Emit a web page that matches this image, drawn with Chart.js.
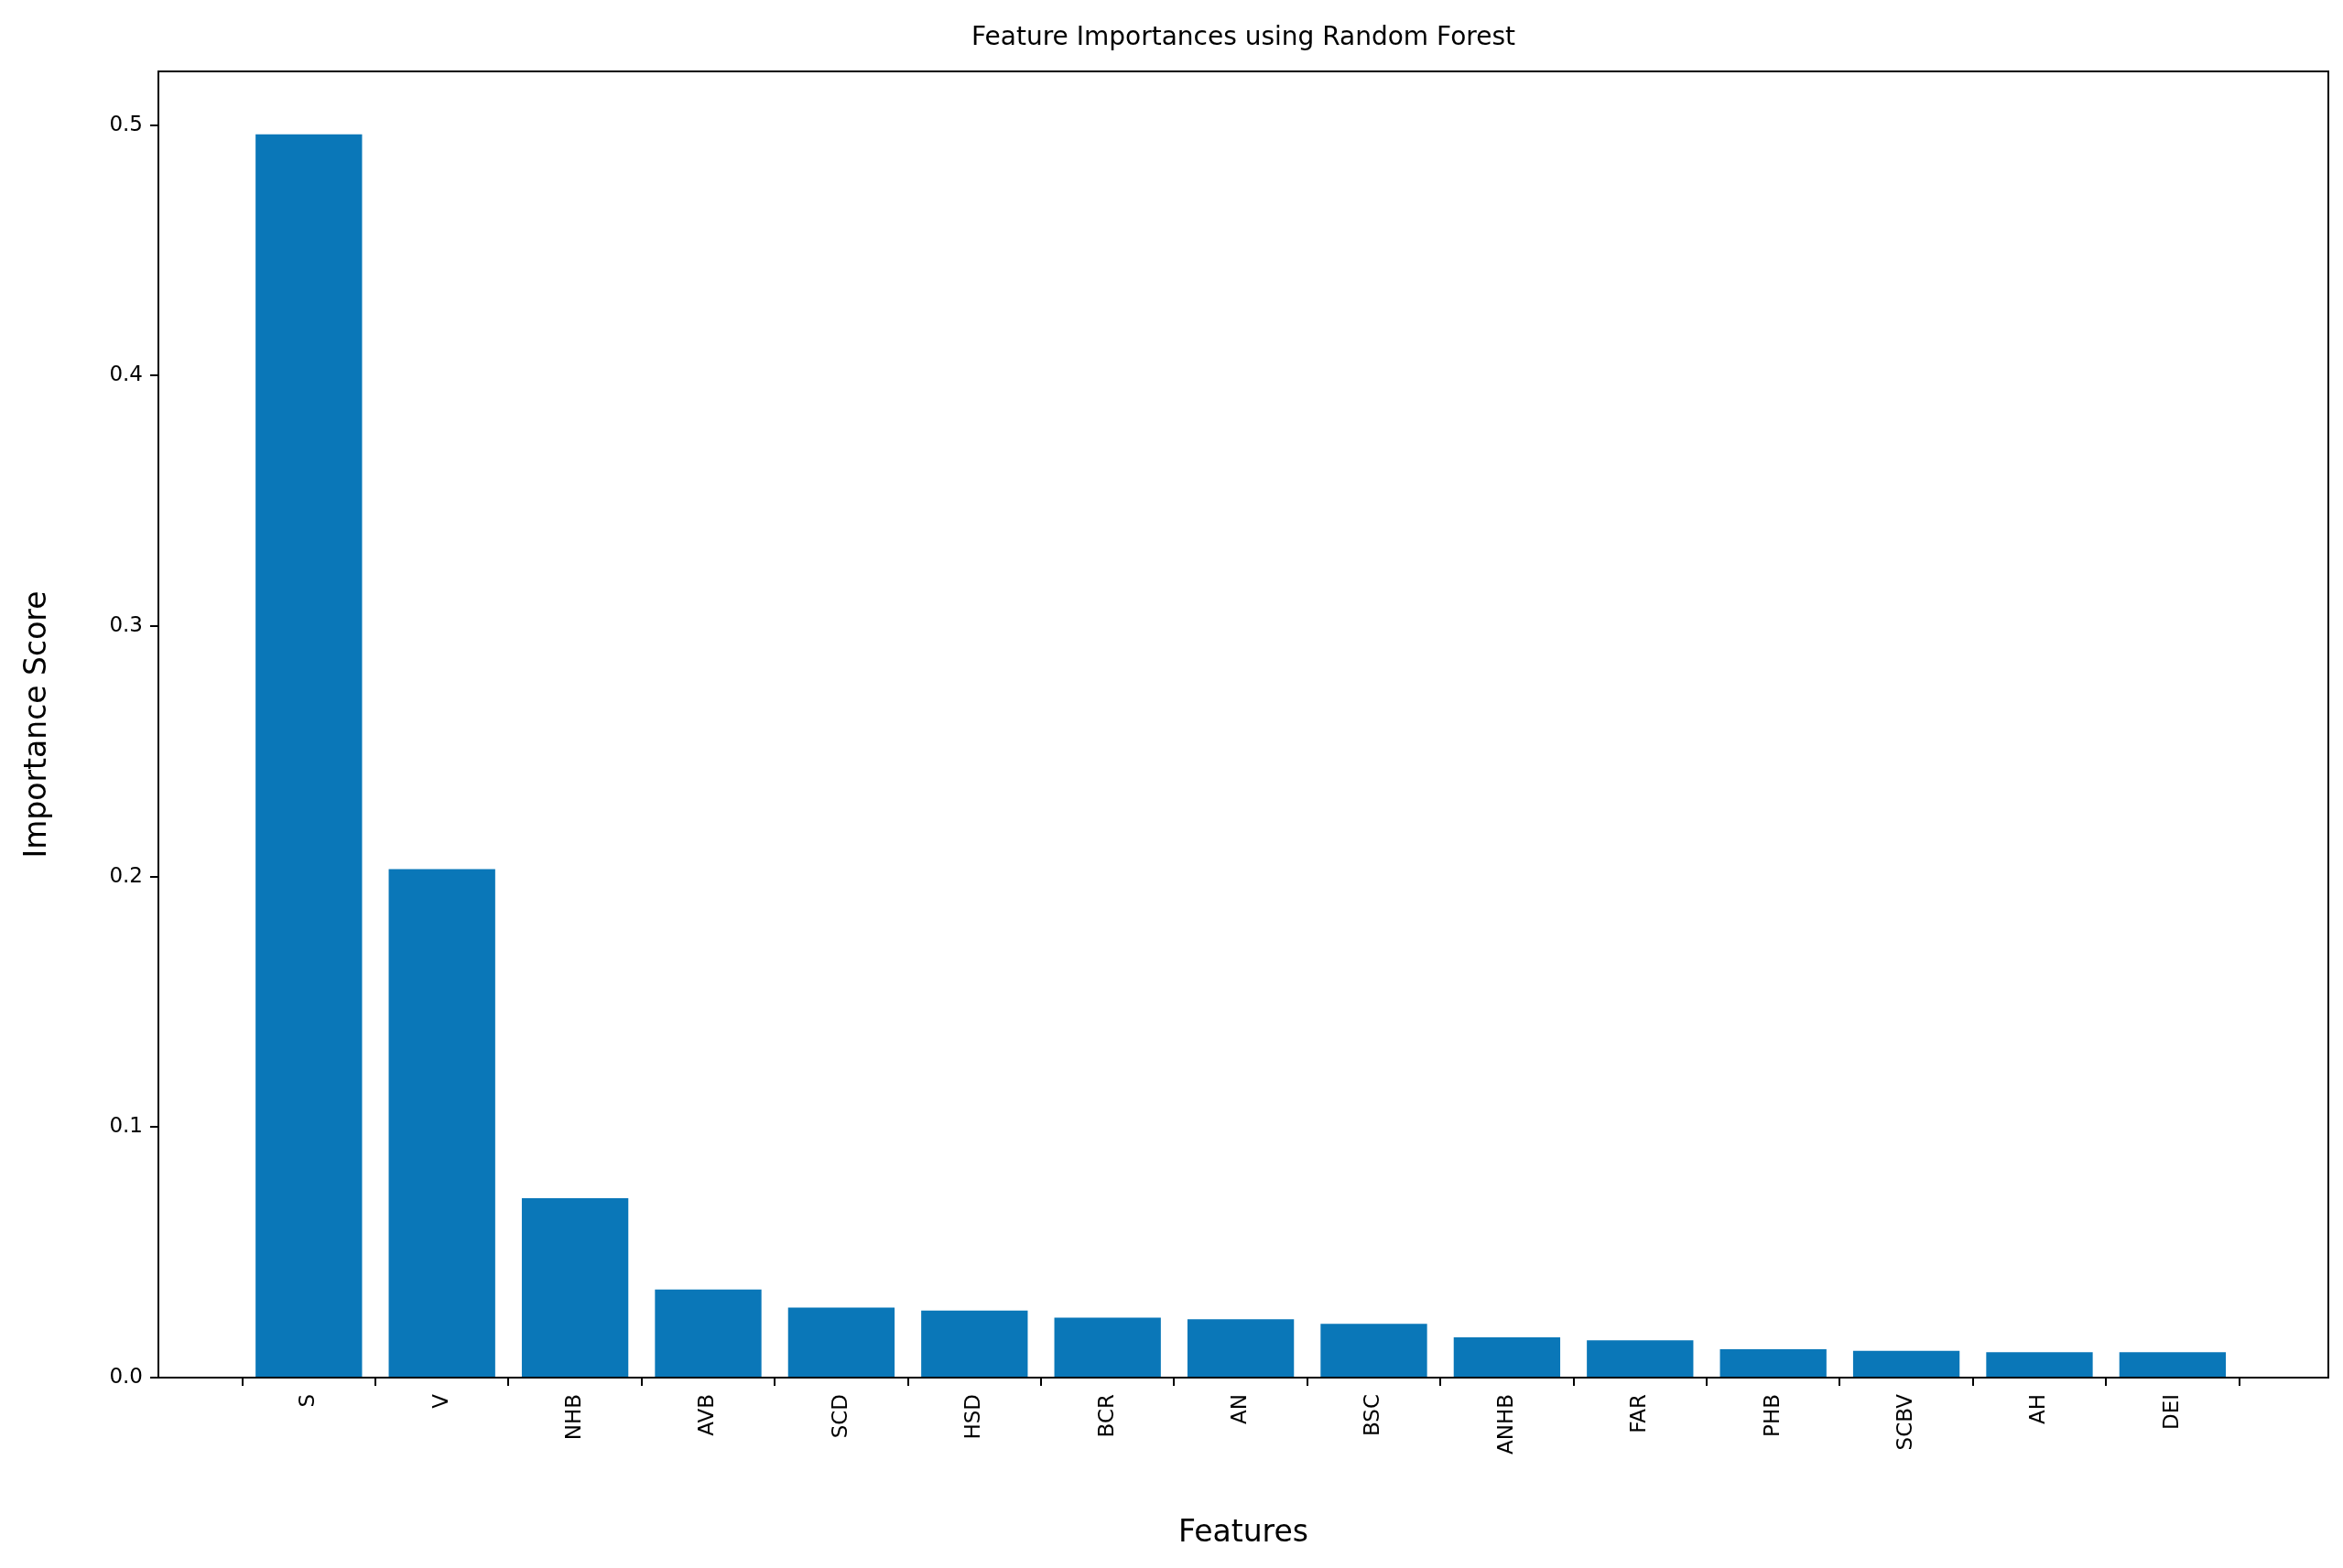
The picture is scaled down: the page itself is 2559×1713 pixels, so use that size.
<!DOCTYPE html>
<html><head><meta charset="utf-8">
<script src="https://cdn.jsdelivr.net/npm/chart.js@4"></script>
<style>html,body{margin:0;padding:0;background:#fff}#wrap{width:2559px;height:1713px}</style>
</head><body><div id="wrap"><canvas id="c"></canvas></div>
<script>
const categories = ["S","V","NHB","AVB","SCD","HSD","BCR","AN","BSC","ANHB","FAR","PHB","SCBV","AH","DEI"];
const importance = [0.4964,0.2030,0.0716,0.0352,0.0280,0.0268,0.0239,0.0233,0.0215,0.0161,0.0149,0.0113,0.0107,0.0101,0.0101];
const yTicks = [0,0.1,0.2,0.3,0.4,0.5];
const FONT = "'DejaVu Sans', sans-serif";

const framePlugin = {
  id:'frame',
  afterDraw(chart){
    const {ctx, chartArea:a, scales:{x}} = chart;
    ctx.save();
    ctx.strokeStyle='#000'; ctx.lineWidth=2;
    ctx.strokeRect(a.left, a.top, a.right-a.left, a.bottom-a.top);
    ctx.fillStyle='#000';
    ctx.font = "28px "+FONT; ctx.textAlign='center'; ctx.textBaseline='middle';
    ctx.fillText("Feature Importances using Random Forest", (a.left+a.right)/2, 42);
    ctx.font = "23px "+FONT; ctx.textAlign='right';
    categories.forEach((c,i)=>{
      const px = x.getPixelForValue(i);
      ctx.save(); ctx.translate(px, a.bottom+18); ctx.rotate(-Math.PI/2);
      ctx.fillText(c,0,0); ctx.restore();
    });
    ctx.restore();
  }
};

new Chart(document.getElementById('c'), {
  type:'bar',
  data:{datasets:[{data:categories.map((c,i)=>({x:i,y:importance[i]})),
    backgroundColor:'#0a77b8', barPercentage:0.8, categoryPercentage:1}]},
  options:{
    responsive:true, maintainAspectRatio:false, animation:false,
    layout:{padding:{top:78,right:16,bottom:14,left:0}},
    plugins:{legend:{display:false},tooltip:{enabled:false}},
    scales:{
      x:{type:'linear', min:-1.13, max:15.17, offset:false,
        afterBuildTicks(s){ s.ticks = categories.map((c,i)=>({value:i})); },
        ticks:{display:false},
        grid:{display:true, drawOnChartArea:false, drawTicks:true, tickLength:9, color:'#000', lineWidth:2},
        border:{display:false},
        afterFit(s){ s.height = 1713-1505-14; },
        title:{display:true, text:'Features', color:'#000', font:{family:FONT,size:33}, padding:{top:0,bottom:4}}
      },
      y:{min:-0.0, max:0.5215,
        afterBuildTicks(s){ s.ticks = yTicks.map(v=>({value:v})); },
        ticks:{color:'#000', font:{family:FONT,size:23}, padding:8, callback:v=>v.toFixed(1)},
        grid:{display:true, drawOnChartArea:false, drawTicks:true, tickLength:9, color:'#000', lineWidth:2},
        border:{display:false},
        afterFit(s){ s.width = 173; },
        title:{display:true, text:'Importance Score', color:'#000', font:{family:FONT,size:33}, padding:{top:22,bottom:0}}
      }
    }
  },
  plugins:[framePlugin]
});
</script></body></html>
